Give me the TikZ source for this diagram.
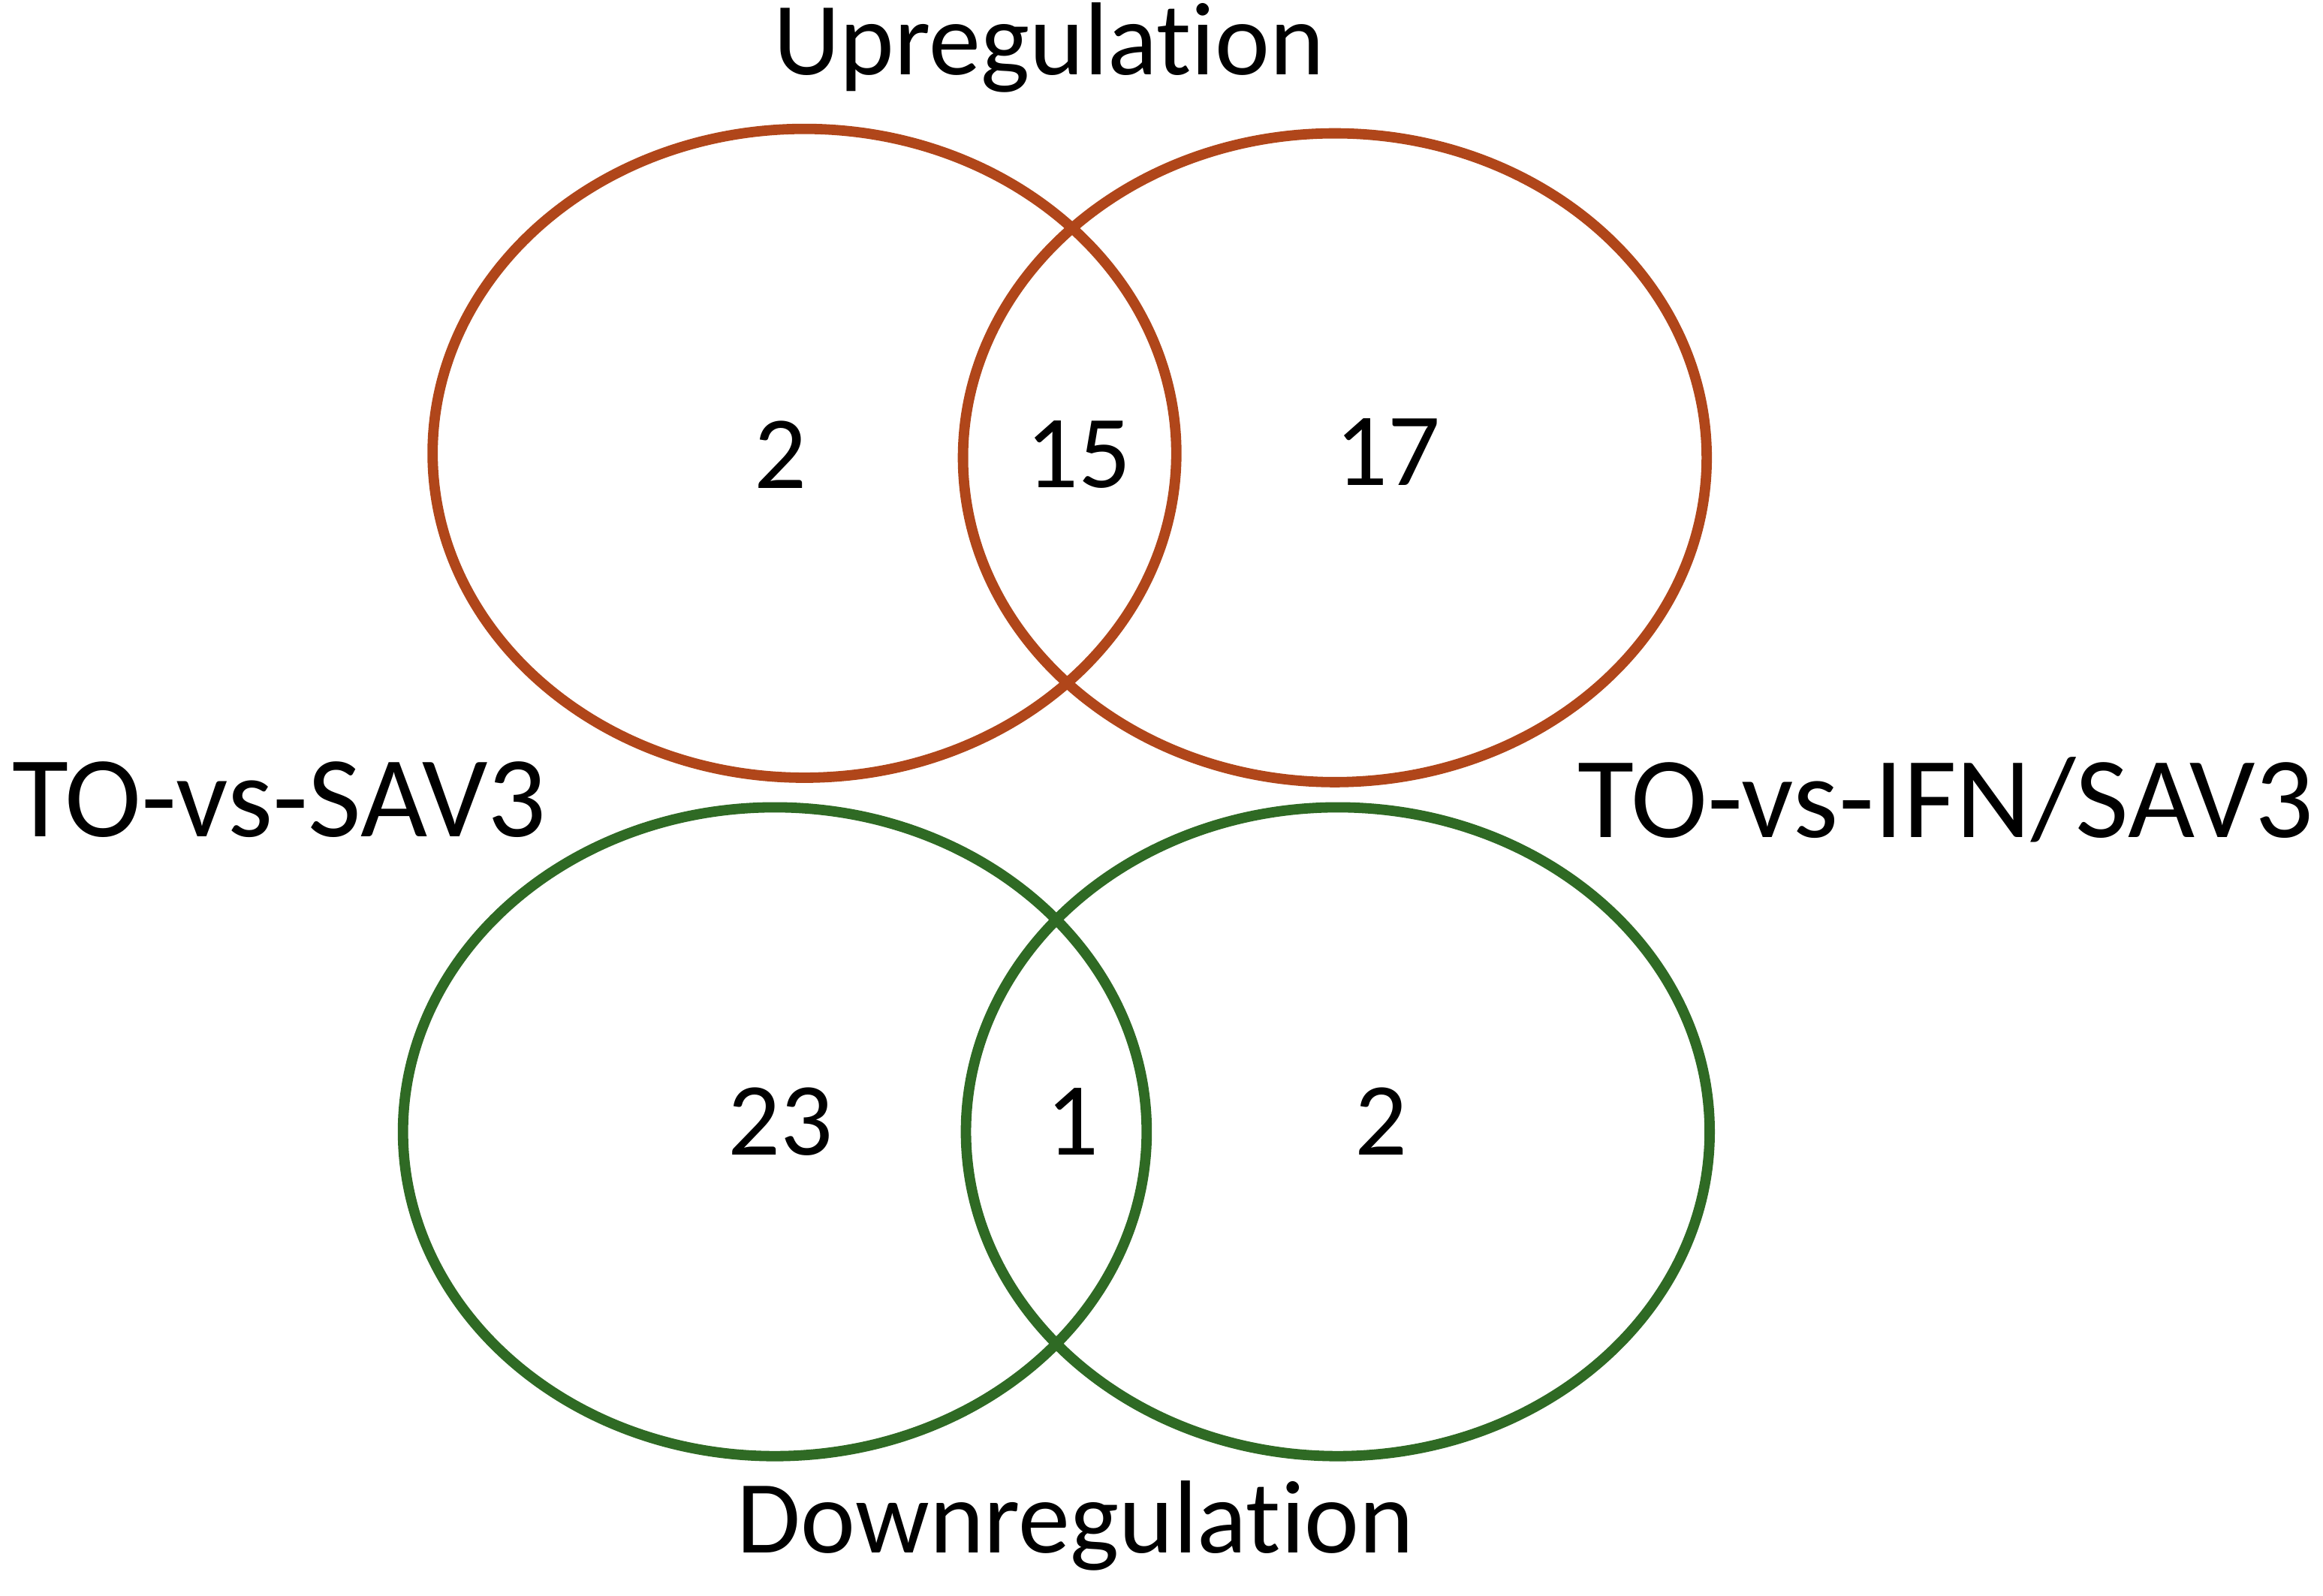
\documentclass[tikz,border=0pt]{standalone}
\usepackage{fontspec}
\setmainfont{Carlito}[Ligatures={NoCommon,NoRare,NoDiscretionary}]
\definecolor{upc}{HTML}{B0461A}
\definecolor{downc}{HTML}{2F6A24}
\begin{document}
\begin{tikzpicture}[x=1pt,y=-1pt,
  upell/.style={draw=upc,line width=7pt},
  downell/.style={draw=downc,line width=7pt},
  lbl/.style={font=\fontsize{70}{74}\selectfont,inner sep=0pt},
  side/.style={font=\fontsize{78}{82}\selectfont,inner sep=0pt}]
\useasboundingbox (0,0) rectangle (1568,1077);
\draw[upell] (543,306) ellipse [x radius=251,y radius=219];
\draw[upell] (901,309) ellipse [x radius=251,y radius=219];
\draw[downell] (523,764) ellipse [x radius=251,y radius=219];
\draw[downell] (903,764) ellipse [x radius=251,y radius=219];
\node[lbl] (up) at (708,32) {Upregulation};
\node[lbl] (down) at (726,1030) {Downregulation};
\node[side,anchor=west] (l) at (8,540) {TO-vs-SAV3};
\node[side,anchor=east] (r) at (1562,540) {TO-vs-IFN/SAV3};
\node[lbl] (a1) at (527,307) {2};
\node[lbl] (a2) at (728,307) {15};
\node[lbl] (a3) at (937,305) {17};
\node[lbl] (b1) at (527,757) {23};
\node[lbl] (b2) at (724,757) {1};
\node[lbl] (b3) at (932,757) {2};
\end{tikzpicture}
\end{document}
